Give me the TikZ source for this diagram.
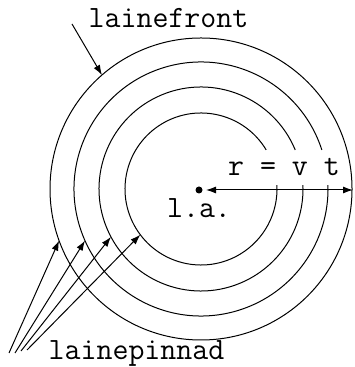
\documentclass[tikz,border=0pt]{standalone}
\usetikzlibrary{arrows.meta, positioning, calc}

\begin{document}
\begin{tikzpicture}[x=0.5pt, y=0.5pt, line width=0.5pt,
    font=\ttfamily\fontsize{15.5}{18}\selectfont,
    >={Latex[length=5pt, width=3.5pt]},
    label/.style={anchor=base, inner sep=0pt}]

    \useasboundingbox (0,0) rectangle (354,367);
    \coordinate (C) at (201,178);

    % Wave surfaces
    \foreach \r/\a/\b in {76/31/3, 102/22.5/2.2, 127/17.9/1.8}
    {
        \draw ($(C)+(\a:\r)$) arc[start angle=\a, end angle=360+\b, radius=\r];
    }
    \draw (C) circle[radius=151];

    % Source and radius
    \node[circle, fill, inner sep=0pt, minimum size=3.5pt] (la) at (199,177) {};
    \coordinate (E) at (353,177);
    \draw[<->, shorten <=1.5pt] (la) -- (E);
    \node[label] (rvt) at (284,191) {r = v t};
    \node[label] (LA) at (199,149) {l.a.};

    % Wave front
    \node[label] (front) at (168.5,339) {lainefront};
    \coordinate (F) at (72,343);
    \draw[->] (F) -- ($(C)+(131:151)$);

    % Wave surfaces label
    \node[label] (surf) at (136.5,7) {lainepinnad};
    \foreach \s/\y/\ang/\r in {9/14/200/151, 15/14/204/127, 21/16/208/102, 27/17/217/76}
    {
        \coordinate (S\s) at (\s,\y);
        \draw[->] (S\s) -- ($(C)+(\ang:\r)$);
    }

\end{tikzpicture}
\end{document}
